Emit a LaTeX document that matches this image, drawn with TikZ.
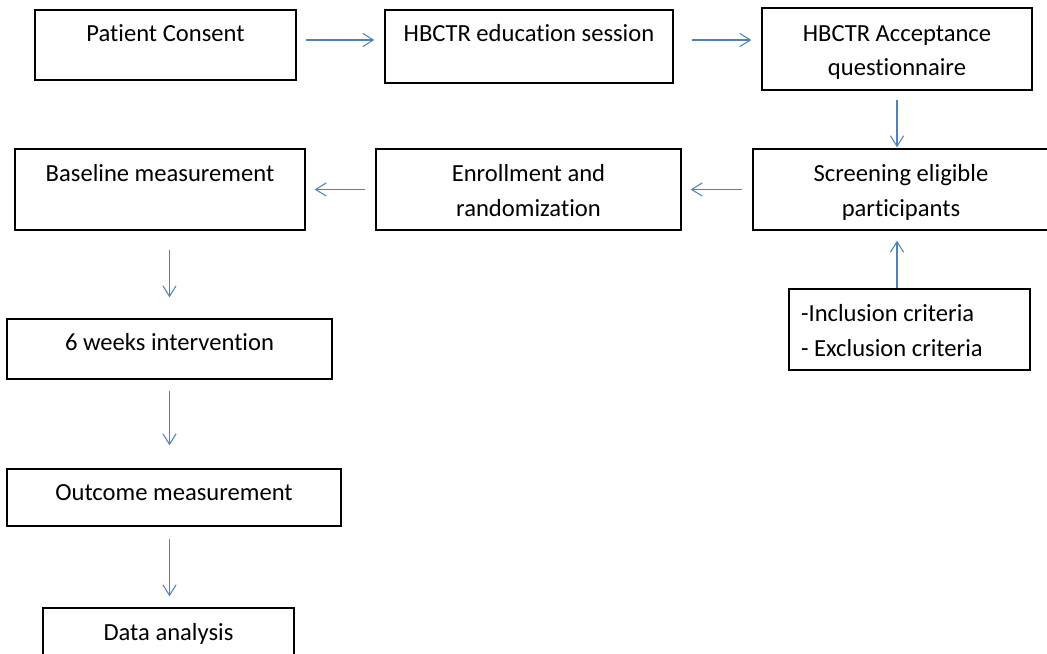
\documentclass[tikz,border=0pt]{standalone}
\usepackage{fontspec}
\setmainfont{Carlito}[Ligatures={NoCommon}]
\usetikzlibrary{arrows.meta}
\definecolor{flowArrow}{HTML}{4F81BD}
\tikzset{
  stepbox/.style={draw, line width=0.8pt, align=center, inner sep=0pt,
    font=\fontsize{14}{19.5}\selectfont},
  onebox/.style={stepbox, text height=0.4cm, text depth=#1},
  twobox/.style={stepbox, text height=1.19cm, text depth=0.12cm},
  listbox/.style={stepbox, align=flush left, text height=0.5cm, text depth=0.81cm},
  flow/.style={draw=flowArrow, line width=0.6pt, -{Straight Barb[length=6pt,width=7.5pt]}}
}

\begin{document}
\begin{tikzpicture}[x=0.02cm, y=-0.02cm]
  \useasboundingbox (0,0) rectangle (1047,653);
  % top row
  \node[onebox=0.56cm, minimum width=5.22cm, minimum height=1.40cm] (consent) at (165.5,45) {Patient Consent};
  \node[onebox=0.62cm, minimum width=5.76cm, minimum height=1.46cm] (educ) at (529,46.5) {HBCTR education session};
  \node[twobox, minimum width=5.40cm, minimum height=1.64cm] (accept) at (897,49) {HBCTR Acceptance\\questionnaire};
  % middle row
  \node[twobox, minimum width=5.92cm, minimum height=1.62cm] (screen) at (901,189.5) {Screening eligible\\participants};
  \node[twobox, minimum width=6.10cm, minimum height=1.62cm] (enroll) at (528.5,189.5) {Enrollment and\\randomization};
  \node[onebox=0.74cm, minimum width=5.80cm, minimum height=1.62cm] (baseline) at (160,189.5) {Baseline measurement};
  \node[listbox, text width=4.34cm, inner xsep=0.24cm, minimum height=1.62cm] (criteria) at (909.5,329.5) {-Inclusion criteria\\- Exclusion criteria};
  % left column
  \node[onebox=0.36cm, minimum width=6.50cm, minimum height=1.20cm] (sixwk) at (169.5,349) {6 weeks intervention};
  \node[onebox=0.30cm, minimum width=6.68cm, minimum height=1.14cm] (outcome) at (174,497.5) {Outcome measurement};
  \node[onebox=0.32cm, minimum width=5.02cm, minimum height=1.20cm] (data) at (168.5,638) {Data analysis};

  % arrows
  \draw[flow, shorten <=0.18cm, shorten >=0.2cm] ([yshift=0.1cm]consent.east) -- ([yshift=0.1cm]consent.east -| educ.west);
  \draw[flow, shorten <=0.36cm, shorten >=0.2cm] ([yshift=0.13cm]educ.east) -- ([yshift=0.13cm]educ.east -| accept.west);
  \draw[flow, shorten <=0.18cm, shorten >=0.02cm] (accept.south) -- (accept.south |- screen.north);
  \draw[flow, shorten <=0.2cm, shorten >=0.18cm] (screen.west) -- (enroll.east);
  \draw[flow, shorten <=0.2cm, shorten >=0.18cm] (enroll.west) -- (baseline.east);
  \draw[flow, shorten >=0.2cm] (criteria.north -| accept.south) -- (accept.south |- screen.south);
  \draw[flow, shorten <=0.38cm, shorten >=0.42cm] (sixwk.north |- baseline.south) -- (sixwk.north);
  \draw[flow, shorten <=0.22cm, shorten >=0.46cm] (sixwk.south) -- (sixwk.south |- outcome.north);
  \draw[flow, shorten <=0.24cm, shorten >=0.22cm] (sixwk.south |- outcome.south) -- (sixwk.south |- data.north);
\end{tikzpicture}
\end{document}
